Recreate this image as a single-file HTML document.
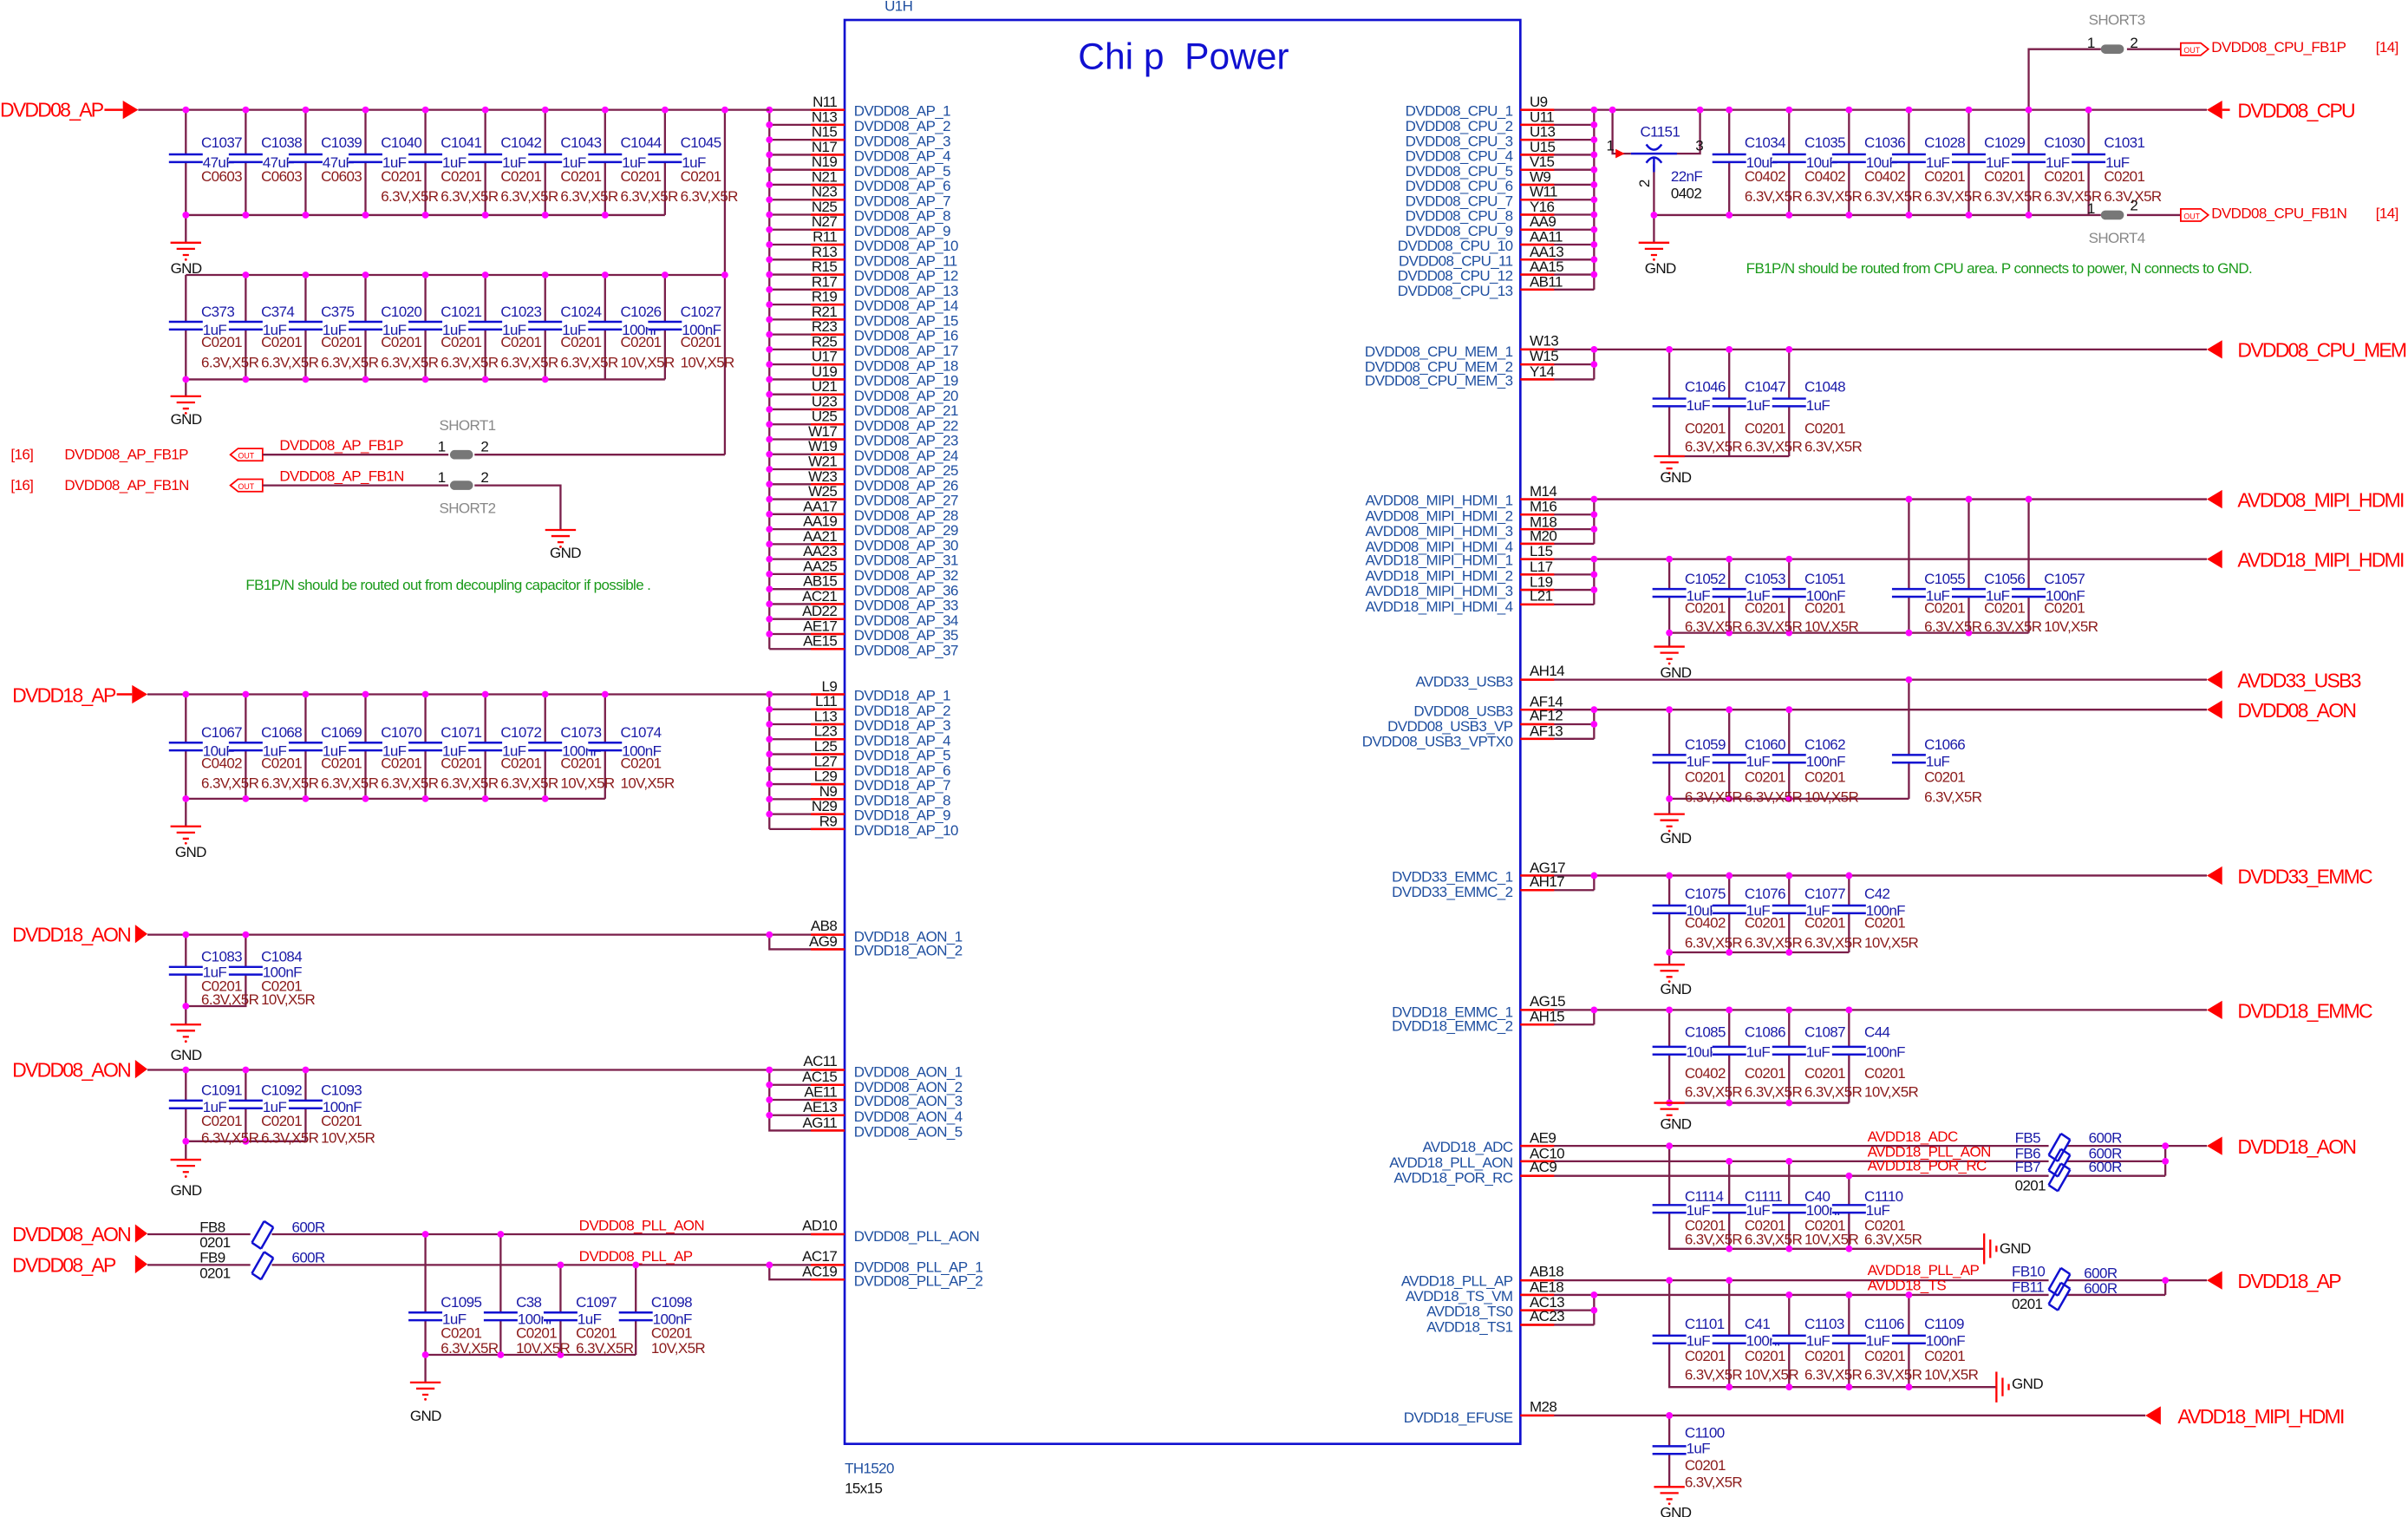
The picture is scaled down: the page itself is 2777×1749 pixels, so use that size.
<!DOCTYPE html>
<html><head><meta charset="utf-8"><style>
html,body{margin:0;padding:0;background:#fff}
svg{display:block}
text{font-family:"Liberation Sans",sans-serif;font-size:9.6px;letter-spacing:-0.35px}
.w{stroke:#7a1f4a;stroke-width:1.3;fill:none}
.rp{stroke:#f00;stroke-width:1.4;fill:none}
.bl{stroke:#1010d0;stroke-width:1.4;fill:none}
.b{fill:#1a1aa8}
.pb{fill:#1f4fa0}
.r{fill:#8b1a1a}
.k{fill:#111}
.n{fill:#f00;font-size:13px;letter-spacing:-1px}
.nr{fill:#e00}
.gr{fill:#888}
.gn{fill:#1a9a1a}
.dt circle{fill:#f0f}
</style></head><body>
<svg width="2777" height="1749" viewBox="0 0 1568 987.6" preserveAspectRatio="none" xmlns="http://www.w3.org/2000/svg">
<defs>
<g id="c"><rect x="-11" y="-2" width="22" height="4" fill="#fff"/><path d="M-11 -2.5H11M-11 2.5H11" class="bl"/></g>
<g id="g"><path d="M-10 0H10M-6 4H6M-2 8H2" stroke="#f00" stroke-width="1.3"/><circle cx="0" cy="11" r="0.8" fill="#f00"/></g>
<g id="gs"><path d="M0 -10V10M4 -6V6M8 -2V2" stroke="#f00" stroke-width="1.3"/></g>
<g id="fb"><path d="M-6 6L2 -8M0 10L8 -4M-6 6L0 10M2 -8L8 -4" class="bl"/></g>
</defs>

<!-- Chip -->
<rect x="550" y="13" width="440" height="927" fill="none" stroke="#1010d0" stroke-width="1.5"/>
<text x="576" y="7" class="pb" font-size="9">U1H</text>
<text x="702" y="45" fill="#1010d0" style="font-size:24px;white-space:pre;letter-spacing:0" xml:space="preserve">Chi p  Power</text>
<text x="550" y="959" class="pb">TH1520</text>
<text x="550" y="972" class="k">15x15</text>

<!-- LEFT PINS DVDD08_AP -->
<g>
<path d="M501 71.5V422.5" class="w"/>
<g transform="translate(0,71.5)"><path d="M501 0H550" class="w"/><path d="M528 0H550" class="rp"/><text x="545" y="-2" class="k" text-anchor="end">N11</text><text x="556" y="4" class="pb">DVDD08_AP_1</text></g>
<g transform="translate(0,81.25)"><path d="M501 0H550" class="w"/><path d="M528 0H550" class="rp"/><text x="545" y="-2" class="k" text-anchor="end">N13</text><text x="556" y="4" class="pb">DVDD08_AP_2</text></g>
<g transform="translate(0,91)"><path d="M501 0H550" class="w"/><path d="M528 0H550" class="rp"/><text x="545" y="-2" class="k" text-anchor="end">N15</text><text x="556" y="4" class="pb">DVDD08_AP_3</text></g>
<g transform="translate(0,100.75)"><path d="M501 0H550" class="w"/><path d="M528 0H550" class="rp"/><text x="545" y="-2" class="k" text-anchor="end">N17</text><text x="556" y="4" class="pb">DVDD08_AP_4</text></g>
<g transform="translate(0,110.5)"><path d="M501 0H550" class="w"/><path d="M528 0H550" class="rp"/><text x="545" y="-2" class="k" text-anchor="end">N19</text><text x="556" y="4" class="pb">DVDD08_AP_5</text></g>
<g transform="translate(0,120.25)"><path d="M501 0H550" class="w"/><path d="M528 0H550" class="rp"/><text x="545" y="-2" class="k" text-anchor="end">N21</text><text x="556" y="4" class="pb">DVDD08_AP_6</text></g>
<g transform="translate(0,130)"><path d="M501 0H550" class="w"/><path d="M528 0H550" class="rp"/><text x="545" y="-2" class="k" text-anchor="end">N23</text><text x="556" y="4" class="pb">DVDD08_AP_7</text></g>
<g transform="translate(0,139.75)"><path d="M501 0H550" class="w"/><path d="M528 0H550" class="rp"/><text x="545" y="-2" class="k" text-anchor="end">N25</text><text x="556" y="4" class="pb">DVDD08_AP_8</text></g>
<g transform="translate(0,149.5)"><path d="M501 0H550" class="w"/><path d="M528 0H550" class="rp"/><text x="545" y="-2" class="k" text-anchor="end">N27</text><text x="556" y="4" class="pb">DVDD08_AP_9</text></g>
<g transform="translate(0,159.25)"><path d="M501 0H550" class="w"/><path d="M528 0H550" class="rp"/><text x="545" y="-2" class="k" text-anchor="end">R11</text><text x="556" y="4" class="pb">DVDD08_AP_10</text></g>
<g transform="translate(0,169)"><path d="M501 0H550" class="w"/><path d="M528 0H550" class="rp"/><text x="545" y="-2" class="k" text-anchor="end">R13</text><text x="556" y="4" class="pb">DVDD08_AP_11</text></g>
<g transform="translate(0,178.75)"><path d="M501 0H550" class="w"/><path d="M528 0H550" class="rp"/><text x="545" y="-2" class="k" text-anchor="end">R15</text><text x="556" y="4" class="pb">DVDD08_AP_12</text></g>
<g transform="translate(0,188.5)"><path d="M501 0H550" class="w"/><path d="M528 0H550" class="rp"/><text x="545" y="-2" class="k" text-anchor="end">R17</text><text x="556" y="4" class="pb">DVDD08_AP_13</text></g>
<g transform="translate(0,198.25)"><path d="M501 0H550" class="w"/><path d="M528 0H550" class="rp"/><text x="545" y="-2" class="k" text-anchor="end">R19</text><text x="556" y="4" class="pb">DVDD08_AP_14</text></g>
<g transform="translate(0,208)"><path d="M501 0H550" class="w"/><path d="M528 0H550" class="rp"/><text x="545" y="-2" class="k" text-anchor="end">R21</text><text x="556" y="4" class="pb">DVDD08_AP_15</text></g>
<g transform="translate(0,217.75)"><path d="M501 0H550" class="w"/><path d="M528 0H550" class="rp"/><text x="545" y="-2" class="k" text-anchor="end">R23</text><text x="556" y="4" class="pb">DVDD08_AP_16</text></g>
<g transform="translate(0,227.5)"><path d="M501 0H550" class="w"/><path d="M528 0H550" class="rp"/><text x="545" y="-2" class="k" text-anchor="end">R25</text><text x="556" y="4" class="pb">DVDD08_AP_17</text></g>
<g transform="translate(0,237.25)"><path d="M501 0H550" class="w"/><path d="M528 0H550" class="rp"/><text x="545" y="-2" class="k" text-anchor="end">U17</text><text x="556" y="4" class="pb">DVDD08_AP_18</text></g>
<g transform="translate(0,247)"><path d="M501 0H550" class="w"/><path d="M528 0H550" class="rp"/><text x="545" y="-2" class="k" text-anchor="end">U19</text><text x="556" y="4" class="pb">DVDD08_AP_19</text></g>
<g transform="translate(0,256.75)"><path d="M501 0H550" class="w"/><path d="M528 0H550" class="rp"/><text x="545" y="-2" class="k" text-anchor="end">U21</text><text x="556" y="4" class="pb">DVDD08_AP_20</text></g>
<g transform="translate(0,266.5)"><path d="M501 0H550" class="w"/><path d="M528 0H550" class="rp"/><text x="545" y="-2" class="k" text-anchor="end">U23</text><text x="556" y="4" class="pb">DVDD08_AP_21</text></g>
<g transform="translate(0,276.25)"><path d="M501 0H550" class="w"/><path d="M528 0H550" class="rp"/><text x="545" y="-2" class="k" text-anchor="end">U25</text><text x="556" y="4" class="pb">DVDD08_AP_22</text></g>
<g transform="translate(0,286)"><path d="M501 0H550" class="w"/><path d="M528 0H550" class="rp"/><text x="545" y="-2" class="k" text-anchor="end">W17</text><text x="556" y="4" class="pb">DVDD08_AP_23</text></g>
<g transform="translate(0,295.75)"><path d="M501 0H550" class="w"/><path d="M528 0H550" class="rp"/><text x="545" y="-2" class="k" text-anchor="end">W19</text><text x="556" y="4" class="pb">DVDD08_AP_24</text></g>
<g transform="translate(0,305.5)"><path d="M501 0H550" class="w"/><path d="M528 0H550" class="rp"/><text x="545" y="-2" class="k" text-anchor="end">W21</text><text x="556" y="4" class="pb">DVDD08_AP_25</text></g>
<g transform="translate(0,315.25)"><path d="M501 0H550" class="w"/><path d="M528 0H550" class="rp"/><text x="545" y="-2" class="k" text-anchor="end">W23</text><text x="556" y="4" class="pb">DVDD08_AP_26</text></g>
<g transform="translate(0,325)"><path d="M501 0H550" class="w"/><path d="M528 0H550" class="rp"/><text x="545" y="-2" class="k" text-anchor="end">W25</text><text x="556" y="4" class="pb">DVDD08_AP_27</text></g>
<g transform="translate(0,334.75)"><path d="M501 0H550" class="w"/><path d="M528 0H550" class="rp"/><text x="545" y="-2" class="k" text-anchor="end">AA17</text><text x="556" y="4" class="pb">DVDD08_AP_28</text></g>
<g transform="translate(0,344.5)"><path d="M501 0H550" class="w"/><path d="M528 0H550" class="rp"/><text x="545" y="-2" class="k" text-anchor="end">AA19</text><text x="556" y="4" class="pb">DVDD08_AP_29</text></g>
<g transform="translate(0,354.25)"><path d="M501 0H550" class="w"/><path d="M528 0H550" class="rp"/><text x="545" y="-2" class="k" text-anchor="end">AA21</text><text x="556" y="4" class="pb">DVDD08_AP_30</text></g>
<g transform="translate(0,364)"><path d="M501 0H550" class="w"/><path d="M528 0H550" class="rp"/><text x="545" y="-2" class="k" text-anchor="end">AA23</text><text x="556" y="4" class="pb">DVDD08_AP_31</text></g>
<g transform="translate(0,373.75)"><path d="M501 0H550" class="w"/><path d="M528 0H550" class="rp"/><text x="545" y="-2" class="k" text-anchor="end">AA25</text><text x="556" y="4" class="pb">DVDD08_AP_32</text></g>
<g transform="translate(0,383.5)"><path d="M501 0H550" class="w"/><path d="M528 0H550" class="rp"/><text x="545" y="-2" class="k" text-anchor="end">AB15</text><text x="556" y="4" class="pb">DVDD08_AP_36</text></g>
<g transform="translate(0,393.25)"><path d="M501 0H550" class="w"/><path d="M528 0H550" class="rp"/><text x="545" y="-2" class="k" text-anchor="end">AC21</text><text x="556" y="4" class="pb">DVDD08_AP_33</text></g>
<g transform="translate(0,403)"><path d="M501 0H550" class="w"/><path d="M528 0H550" class="rp"/><text x="545" y="-2" class="k" text-anchor="end">AD22</text><text x="556" y="4" class="pb">DVDD08_AP_34</text></g>
<g transform="translate(0,412.75)"><path d="M501 0H550" class="w"/><path d="M528 0H550" class="rp"/><text x="545" y="-2" class="k" text-anchor="end">AE17</text><text x="556" y="4" class="pb">DVDD08_AP_35</text></g>
<g transform="translate(0,422.5)"><path d="M501 0H550" class="w"/><path d="M528 0H550" class="rp"/><text x="545" y="-2" class="k" text-anchor="end">AE15</text><text x="556" y="4" class="pb">DVDD08_AP_37</text></g>
<g class="dt"><circle cx="501" cy="71.5" r="2.2"/><circle cx="501" cy="81.25" r="2.2"/><circle cx="501" cy="91" r="2.2"/><circle cx="501" cy="100.75" r="2.2"/><circle cx="501" cy="110.5" r="2.2"/><circle cx="501" cy="120.25" r="2.2"/><circle cx="501" cy="130" r="2.2"/><circle cx="501" cy="139.75" r="2.2"/><circle cx="501" cy="149.5" r="2.2"/><circle cx="501" cy="159.25" r="2.2"/><circle cx="501" cy="169" r="2.2"/><circle cx="501" cy="178.75" r="2.2"/><circle cx="501" cy="188.5" r="2.2"/><circle cx="501" cy="198.25" r="2.2"/><circle cx="501" cy="208" r="2.2"/><circle cx="501" cy="217.75" r="2.2"/><circle cx="501" cy="227.5" r="2.2"/><circle cx="501" cy="237.25" r="2.2"/><circle cx="501" cy="247" r="2.2"/><circle cx="501" cy="256.75" r="2.2"/><circle cx="501" cy="266.5" r="2.2"/><circle cx="501" cy="276.25" r="2.2"/><circle cx="501" cy="286" r="2.2"/><circle cx="501" cy="295.75" r="2.2"/><circle cx="501" cy="305.5" r="2.2"/><circle cx="501" cy="315.25" r="2.2"/><circle cx="501" cy="325" r="2.2"/><circle cx="501" cy="334.75" r="2.2"/><circle cx="501" cy="344.5" r="2.2"/><circle cx="501" cy="354.25" r="2.2"/><circle cx="501" cy="364" r="2.2"/><circle cx="501" cy="373.75" r="2.2"/><circle cx="501" cy="383.5" r="2.2"/><circle cx="501" cy="393.25" r="2.2"/><circle cx="501" cy="403" r="2.2"/><circle cx="501" cy="412.75" r="2.2"/></g>
</g>

<!-- DVDD08_AP decoupling -->
<text x="0" y="76" class="n">DVDD08_AP</text>
<path d="M68 71.5H80" class="rp"/><polygon points="80,65.5 90,71.5 80,77.5" fill="#f00"/>
<path d="M90 71.5H501" class="w"/>
<path d="M121 71.5V140M160 71.5V140M199 71.5V140M238 71.5V140M277 71.5V140M316 71.5V140M355 71.5V140M394 71.5V140M433 71.5V140M121 140H433M121 140V158" class="w"/>
<path d="M472 71.5V296M121 179H472M121 179V247H433M160 179V247M199 179V247M238 179V247M277 179V247M316 179V247M355 179V247M394 179V247M433 179V247M121 247V258" class="w"/>
<g class="dt"><circle cx="121" cy="71.5" r="2.2"/><circle cx="160" cy="71.5" r="2.2"/><circle cx="199" cy="71.5" r="2.2"/><circle cx="238" cy="71.5" r="2.2"/><circle cx="277" cy="71.5" r="2.2"/><circle cx="316" cy="71.5" r="2.2"/><circle cx="355" cy="71.5" r="2.2"/><circle cx="394" cy="71.5" r="2.2"/><circle cx="433" cy="71.5" r="2.2"/><circle cx="472" cy="71.5" r="2.2"/>
<circle cx="121" cy="140" r="2.2"/><circle cx="160" cy="140" r="2.2"/><circle cx="199" cy="140" r="2.2"/><circle cx="238" cy="140" r="2.2"/><circle cx="277" cy="140" r="2.2"/><circle cx="316" cy="140" r="2.2"/><circle cx="355" cy="140" r="2.2"/><circle cx="394" cy="140" r="2.2"/>
<circle cx="160" cy="179" r="2.2"/><circle cx="199" cy="179" r="2.2"/><circle cx="238" cy="179" r="2.2"/><circle cx="277" cy="179" r="2.2"/><circle cx="316" cy="179" r="2.2"/><circle cx="355" cy="179" r="2.2"/><circle cx="394" cy="179" r="2.2"/><circle cx="433" cy="179" r="2.2"/><circle cx="472" cy="179" r="2.2"/>
<circle cx="121" cy="247" r="2.2"/><circle cx="160" cy="247" r="2.2"/><circle cx="199" cy="247" r="2.2"/><circle cx="238" cy="247" r="2.2"/><circle cx="277" cy="247" r="2.2"/><circle cx="316" cy="247" r="2.2"/><circle cx="355" cy="247" r="2.2"/></g>
<use href="#g" x="121" y="158"/><text x="111" y="178" class="k">GND</text>
<use href="#g" x="121" y="258"/><text x="111" y="276" class="k">GND</text>

<g transform="translate(121,103)"><use href="#c"/><text x="10" y="-7" class="b">C1037</text><text x="11" y="6" class="b">47uF</text><text x="10" y="15" class="r">C0603</text></g>
<g transform="translate(160,103)"><use href="#c"/><text x="10" y="-7" class="b">C1038</text><text x="11" y="6" class="b">47uF</text><text x="10" y="15" class="r">C0603</text></g>
<g transform="translate(199,103)"><use href="#c"/><text x="10" y="-7" class="b">C1039</text><text x="11" y="6" class="b">47uF</text><text x="10" y="15" class="r">C0603</text></g>
<g transform="translate(238,103)"><use href="#c"/><text x="10" y="-7" class="b">C1040</text><text x="11" y="6" class="b">1uF</text><text x="10" y="15" class="r">C0201</text><text x="10" y="28" class="r">6.3V,X5R</text></g>
<g transform="translate(277,103)"><use href="#c"/><text x="10" y="-7" class="b">C1041</text><text x="11" y="6" class="b">1uF</text><text x="10" y="15" class="r">C0201</text><text x="10" y="28" class="r">6.3V,X5R</text></g>
<g transform="translate(316,103)"><use href="#c"/><text x="10" y="-7" class="b">C1042</text><text x="11" y="6" class="b">1uF</text><text x="10" y="15" class="r">C0201</text><text x="10" y="28" class="r">6.3V,X5R</text></g>
<g transform="translate(355,103)"><use href="#c"/><text x="10" y="-7" class="b">C1043</text><text x="11" y="6" class="b">1uF</text><text x="10" y="15" class="r">C0201</text><text x="10" y="28" class="r">6.3V,X5R</text></g>
<g transform="translate(394,103)"><use href="#c"/><text x="10" y="-7" class="b">C1044</text><text x="11" y="6" class="b">1uF</text><text x="10" y="15" class="r">C0201</text><text x="10" y="28" class="r">6.3V,X5R</text></g>
<g transform="translate(433,103)"><use href="#c"/><text x="10" y="-7" class="b">C1045</text><text x="11" y="6" class="b">1uF</text><text x="10" y="15" class="r">C0201</text><text x="10" y="28" class="r">6.3V,X5R</text></g>

<g transform="translate(121,212)"><use href="#c"/><text x="10" y="-6" class="b">C373</text><text x="11" y="6" class="b">1uF</text><text x="10" y="14" class="r">C0201</text><text x="10" y="27" class="r">6.3V,X5R</text></g>
<g transform="translate(160,212)"><use href="#c"/><text x="10" y="-6" class="b">C374</text><text x="11" y="6" class="b">1uF</text><text x="10" y="14" class="r">C0201</text><text x="10" y="27" class="r">6.3V,X5R</text></g>
<g transform="translate(199,212)"><use href="#c"/><text x="10" y="-6" class="b">C375</text><text x="11" y="6" class="b">1uF</text><text x="10" y="14" class="r">C0201</text><text x="10" y="27" class="r">6.3V,X5R</text></g>
<g transform="translate(238,212)"><use href="#c"/><text x="10" y="-6" class="b">C1020</text><text x="11" y="6" class="b">1uF</text><text x="10" y="14" class="r">C0201</text><text x="10" y="27" class="r">6.3V,X5R</text></g>
<g transform="translate(277,212)"><use href="#c"/><text x="10" y="-6" class="b">C1021</text><text x="11" y="6" class="b">1uF</text><text x="10" y="14" class="r">C0201</text><text x="10" y="27" class="r">6.3V,X5R</text></g>
<g transform="translate(316,212)"><use href="#c"/><text x="10" y="-6" class="b">C1023</text><text x="11" y="6" class="b">1uF</text><text x="10" y="14" class="r">C0201</text><text x="10" y="27" class="r">6.3V,X5R</text></g>
<g transform="translate(355,212)"><use href="#c"/><text x="10" y="-6" class="b">C1024</text><text x="11" y="6" class="b">1uF</text><text x="10" y="14" class="r">C0201</text><text x="10" y="27" class="r">6.3V,X5R</text></g>
<g transform="translate(394,212)"><use href="#c"/><text x="10" y="-6" class="b">C1026</text><text x="11" y="6" class="b">100nF</text><text x="10" y="14" class="r">C0201</text><text x="10" y="27" class="r">10V,X5R</text></g>
<g transform="translate(433,212)"><use href="#c"/><text x="10" y="-6" class="b">C1027</text><text x="11" y="6" class="b">100nF</text><text x="10" y="14" class="r">C0201</text><text x="10" y="27" class="r">10V,X5R</text></g>

<!-- SHORT1/2 -->
<text x="7" y="299" class="nr" font-size="9">[16]</text><text x="42" y="299" class="nr">DVDD08_AP_FB1P</text>
<text x="7" y="319" class="nr" font-size="9">[16]</text><text x="42" y="319" class="nr">DVDD08_AP_FB1N</text>
<polygon points="150,296 155,292 171,292 171,300 155,300" fill="#fff" stroke="#f00"/><text x="155" y="298.5" fill="#f00" style="font-size:5px;letter-spacing:0">OUT</text>
<polygon points="150,316 155,312 171,312 171,320 155,320" fill="#fff" stroke="#f00"/><text x="155" y="318.5" fill="#f00" style="font-size:5px;letter-spacing:0">OUT</text>
<path d="M171 296H292M309 296H472M171 316H292M309 316H365V345" class="w"/>
<text x="182" y="293" class="nr">DVDD08_AP_FB1P</text><text x="182" y="313" class="nr">DVDD08_AP_FB1N</text>
<rect x="293" y="293" width="15" height="6" rx="3" fill="#777"/><rect x="293" y="313" width="15" height="6" rx="3" fill="#777"/>
<text x="286" y="280" class="gr">SHORT1</text><text x="286" y="334" class="gr">SHORT2</text>
<text x="285" y="294" class="k">1</text><text x="313" y="294" class="k">2</text><text x="285" y="314" class="k">1</text><text x="313" y="314" class="k">2</text>
<use href="#g" x="365" y="345"/><text x="358" y="363" class="k">GND</text>
<text x="160" y="384" class="gn" font-size="9">FB1P/N should be routed out from decoupling capacitor if possible .</text>

<!-- DVDD18_AP -->
<text x="8" y="457" class="n">DVDD18_AP</text>
<path d="M76 452H86" class="rp"/><polygon points="86,446 96,452 86,458" fill="#f00"/>
<path d="M96 452H550M501 452V539.75M121 452V520H394M160 452V520M199 452V520M238 452V520M277 452V520M316 452V520M355 452V520M394 452V520M121 520V538" class="w"/>
<g transform="translate(0,452)"><path d="M528 0H550" class="rp"/><text x="545" y="-2" class="k" text-anchor="end">L9</text><text x="556" y="4" class="pb">DVDD18_AP_1</text></g>
<g transform="translate(0,461.75)"><path d="M501 0H550" class="w"/><path d="M528 0H550" class="rp"/><text x="545" y="-2" class="k" text-anchor="end">L11</text><text x="556" y="4" class="pb">DVDD18_AP_2</text></g>
<g transform="translate(0,471.5)"><path d="M501 0H550" class="w"/><path d="M528 0H550" class="rp"/><text x="545" y="-2" class="k" text-anchor="end">L13</text><text x="556" y="4" class="pb">DVDD18_AP_3</text></g>
<g transform="translate(0,481.25)"><path d="M501 0H550" class="w"/><path d="M528 0H550" class="rp"/><text x="545" y="-2" class="k" text-anchor="end">L23</text><text x="556" y="4" class="pb">DVDD18_AP_4</text></g>
<g transform="translate(0,491)"><path d="M501 0H550" class="w"/><path d="M528 0H550" class="rp"/><text x="545" y="-2" class="k" text-anchor="end">L25</text><text x="556" y="4" class="pb">DVDD18_AP_5</text></g>
<g transform="translate(0,500.75)"><path d="M501 0H550" class="w"/><path d="M528 0H550" class="rp"/><text x="545" y="-2" class="k" text-anchor="end">L27</text><text x="556" y="4" class="pb">DVDD18_AP_6</text></g>
<g transform="translate(0,510.5)"><path d="M501 0H550" class="w"/><path d="M528 0H550" class="rp"/><text x="545" y="-2" class="k" text-anchor="end">L29</text><text x="556" y="4" class="pb">DVDD18_AP_7</text></g>
<g transform="translate(0,520.25)"><path d="M501 0H550" class="w"/><path d="M528 0H550" class="rp"/><text x="545" y="-2" class="k" text-anchor="end">N9</text><text x="556" y="4" class="pb">DVDD18_AP_8</text></g>
<g transform="translate(0,530)"><path d="M501 0H550" class="w"/><path d="M528 0H550" class="rp"/><text x="545" y="-2" class="k" text-anchor="end">N29</text><text x="556" y="4" class="pb">DVDD18_AP_9</text></g>
<g transform="translate(0,539.75)"><path d="M501 0H550" class="w"/><path d="M528 0H550" class="rp"/><text x="545" y="-2" class="k" text-anchor="end">R9</text><text x="556" y="4" class="pb">DVDD18_AP_10</text></g>
<g class="dt"><circle cx="501" cy="452" r="2.2"/><circle cx="501" cy="461.75" r="2.2"/><circle cx="501" cy="471.5" r="2.2"/><circle cx="501" cy="481.25" r="2.2"/><circle cx="501" cy="491" r="2.2"/><circle cx="501" cy="500.75" r="2.2"/><circle cx="501" cy="510.5" r="2.2"/><circle cx="501" cy="520.25" r="2.2"/><circle cx="501" cy="530" r="2.2"/>
<circle cx="121" cy="452" r="2.2"/><circle cx="160" cy="452" r="2.2"/><circle cx="199" cy="452" r="2.2"/><circle cx="238" cy="452" r="2.2"/><circle cx="277" cy="452" r="2.2"/><circle cx="316" cy="452" r="2.2"/><circle cx="355" cy="452" r="2.2"/><circle cx="394" cy="452" r="2.2"/>
<circle cx="121" cy="520" r="2.2"/><circle cx="160" cy="520" r="2.2"/><circle cx="199" cy="520" r="2.2"/><circle cx="238" cy="520" r="2.2"/><circle cx="277" cy="520" r="2.2"/><circle cx="316" cy="520" r="2.2"/><circle cx="355" cy="520" r="2.2"/></g>
<use href="#g" x="121" y="538"/><text x="114" y="558" class="k">GND</text>
<g transform="translate(121,486)"><use href="#c"/><text x="10" y="-6" class="b">C1067</text><text x="11" y="6" class="b">10uF</text><text x="10" y="14" class="r">C0402</text><text x="10" y="27" class="r">6.3V,X5R</text></g>
<g transform="translate(160,486)"><use href="#c"/><text x="10" y="-6" class="b">C1068</text><text x="11" y="6" class="b">1uF</text><text x="10" y="14" class="r">C0201</text><text x="10" y="27" class="r">6.3V,X5R</text></g>
<g transform="translate(199,486)"><use href="#c"/><text x="10" y="-6" class="b">C1069</text><text x="11" y="6" class="b">1uF</text><text x="10" y="14" class="r">C0201</text><text x="10" y="27" class="r">6.3V,X5R</text></g>
<g transform="translate(238,486)"><use href="#c"/><text x="10" y="-6" class="b">C1070</text><text x="11" y="6" class="b">1uF</text><text x="10" y="14" class="r">C0201</text><text x="10" y="27" class="r">6.3V,X5R</text></g>
<g transform="translate(277,486)"><use href="#c"/><text x="10" y="-6" class="b">C1071</text><text x="11" y="6" class="b">1uF</text><text x="10" y="14" class="r">C0201</text><text x="10" y="27" class="r">6.3V,X5R</text></g>
<g transform="translate(316,486)"><use href="#c"/><text x="10" y="-6" class="b">C1072</text><text x="11" y="6" class="b">1uF</text><text x="10" y="14" class="r">C0201</text><text x="10" y="27" class="r">6.3V,X5R</text></g>
<g transform="translate(355,486)"><use href="#c"/><text x="10" y="-6" class="b">C1073</text><text x="11" y="6" class="b">100nF</text><text x="10" y="14" class="r">C0201</text><text x="10" y="27" class="r">10V,X5R</text></g>
<g transform="translate(394,486)"><use href="#c"/><text x="10" y="-6" class="b">C1074</text><text x="11" y="6" class="b">100nF</text><text x="10" y="14" class="r">C0201</text><text x="10" y="27" class="r">10V,X5R</text></g>

<!-- DVDD18_AON -->
<text x="8" y="613" class="n">DVDD18_AON</text>
<polygon points="88,602 96,608 88,614" fill="#f00"/>
<path d="M96 608.5H550M501 608.5V618H550M121 608.5V655H160V608.5M121 655V667" class="w"/>
<path d="M528 608.5H550M528 618H550" class="rp"/>
<text x="545" y="606" class="k" text-anchor="end">AB8</text><text x="545" y="616" class="k" text-anchor="end">AG9</text>
<text x="556" y="613" class="pb">DVDD18_AON_1</text><text x="556" y="622" class="pb">DVDD18_AON_2</text>
<g class="dt"><circle cx="121" cy="608.5" r="2.2"/><circle cx="160" cy="608.5" r="2.2"/><circle cx="501" cy="608.5" r="2.2"/><circle cx="121" cy="655" r="2.2"/></g>
<use href="#g" x="121" y="667"/><text x="111" y="690" class="k">GND</text>
<g transform="translate(121,632)"><use href="#c"/><text x="10" y="-6" class="b">C1083</text><text x="11" y="4" class="b">1uF</text><text x="10" y="13" class="r">C0201</text><text x="10" y="22" class="r">6.3V,X5R</text></g>
<g transform="translate(160,632)"><use href="#c"/><text x="10" y="-6" class="b">C1084</text><text x="11" y="4" class="b">100nF</text><text x="10" y="13" class="r">C0201</text><text x="10" y="22" class="r">10V,X5R</text></g>

<!-- DVDD08_AON -->
<text x="8" y="701" class="n">DVDD08_AON</text>
<polygon points="88,690 96,696 88,702" fill="#f00"/>
<path d="M96 696.5H550M501 696.5V736H550M501 706.25H550M501 716H550M501 726H550M121 696.5V743H199M160 696.5V743M199 696.5V743M121 743V755" class="w"/>
<path d="M528 696.5H550M528 706.25H550M528 716H550M528 726H550M528 736H550" class="rp"/>
<text x="545" y="694" class="k" text-anchor="end">AC11</text><text x="545" y="704" class="k" text-anchor="end">AC15</text><text x="545" y="714" class="k" text-anchor="end">AE11</text><text x="545" y="724" class="k" text-anchor="end">AE13</text><text x="545" y="734" class="k" text-anchor="end">AG11</text>
<text x="556" y="701" class="pb">DVDD08_AON_1</text><text x="556" y="711" class="pb">DVDD08_AON_2</text><text x="556" y="720" class="pb">DVDD08_AON_3</text><text x="556" y="730" class="pb">DVDD08_AON_4</text><text x="556" y="740" class="pb">DVDD08_AON_5</text>
<g class="dt"><circle cx="121" cy="696.5" r="2.2"/><circle cx="160" cy="696.5" r="2.2"/><circle cx="199" cy="696.5" r="2.2"/><circle cx="501" cy="696.5" r="2.2"/><circle cx="501" cy="706.25" r="2.2"/><circle cx="501" cy="716" r="2.2"/><circle cx="501" cy="726" r="2.2"/><circle cx="121" cy="743" r="2.2"/><circle cx="160" cy="743" r="2.2"/></g>
<use href="#g" x="121" y="755"/><text x="111" y="778" class="k">GND</text>
<g transform="translate(121,719)"><use href="#c"/><text x="10" y="-6" class="b">C1091</text><text x="11" y="5" class="b">1uF</text><text x="10" y="14" class="r">C0201</text><text x="10" y="25" class="r">6.3V,X5R</text></g>
<g transform="translate(160,719)"><use href="#c"/><text x="10" y="-6" class="b">C1092</text><text x="11" y="5" class="b">1uF</text><text x="10" y="14" class="r">C0201</text><text x="10" y="25" class="r">6.3V,X5R</text></g>
<g transform="translate(199,719)"><use href="#c"/><text x="10" y="-6" class="b">C1093</text><text x="11" y="5" class="b">100nF</text><text x="10" y="14" class="r">C0201</text><text x="10" y="25" class="r">10V,X5R</text></g>

<!-- PLL -->
<text x="8" y="808" class="n">DVDD08_AON</text>
<polygon points="88,797 96,803 88,809" fill="#f00"/>
<text x="8" y="828" class="n">DVDD08_AP</text>
<polygon points="88,817 96,823 88,829" fill="#f00"/>
<path d="M96 803.5H163M177 803.5H550M96 823.5H163M177 823.5H550M501 823.5V833H550M277 803.5V882H414M326 803.5V882M365 823.5V882M414 823.5V882M277 882V900" class="w"/>
<path d="M528 803.5H550M528 823.5H550M528 833H550" class="rp"/>
<use href="#fb" x="170" y="803"/><use href="#fb" x="170" y="823"/>
<text x="130" y="802" class="k">FB8</text><text x="130" y="812" class="k">0201</text><text x="190" y="802" class="b">600R</text>
<text x="130" y="822" class="k">FB9</text><text x="130" y="832" class="k">0201</text><text x="190" y="822" class="b">600R</text>
<text x="377" y="801" class="nr">DVDD08_PLL_AON</text><text x="377" y="821" class="nr">DVDD08_PLL_AP</text>
<text x="545" y="801" class="k" text-anchor="end">AD10</text><text x="545" y="821" class="k" text-anchor="end">AC17</text><text x="545" y="831" class="k" text-anchor="end">AC19</text>
<text x="556" y="808" class="pb">DVDD08_PLL_AON</text><text x="556" y="828" class="pb">DVDD08_PLL_AP_1</text><text x="556" y="837" class="pb">DVDD08_PLL_AP_2</text>
<g class="dt"><circle cx="277" cy="803.5" r="2.2"/><circle cx="326" cy="803.5" r="2.2"/><circle cx="365" cy="823.5" r="2.2"/><circle cx="414" cy="823.5" r="2.2"/><circle cx="501" cy="823.5" r="2.2"/><circle cx="277" cy="882" r="2.2"/><circle cx="326" cy="882" r="2.2"/><circle cx="365" cy="882" r="2.2"/></g>
<use href="#g" x="277" y="900"/><text x="267" y="925" class="k">GND</text>
<g transform="translate(277,857)"><use href="#c"/><text x="10" y="-6" class="b">C1095</text><text x="11" y="5" class="b">1uF</text><text x="10" y="14" class="r">C0201</text><text x="10" y="24" class="r">6.3V,X5R</text></g>
<g transform="translate(326,857)"><use href="#c"/><text x="10" y="-6" class="b">C38</text><text x="11" y="5" class="b">100nF</text><text x="10" y="14" class="r">C0201</text><text x="10" y="24" class="r">10V,X5R</text></g>
<g transform="translate(365,857)"><use href="#c"/><text x="10" y="-6" class="b">C1097</text><text x="11" y="5" class="b">1uF</text><text x="10" y="14" class="r">C0201</text><text x="10" y="24" class="r">6.3V,X5R</text></g>
<g transform="translate(414,857)"><use href="#c"/><text x="10" y="-6" class="b">C1098</text><text x="11" y="5" class="b">100nF</text><text x="10" y="14" class="r">C0201</text><text x="10" y="24" class="r">10V,X5R</text></g>

<!-- RIGHT: DVDD08_CPU -->
<path d="M1038 71.5V188.5M1040 71.5H1437" class="w"/>
<g transform="translate(0,71.5)"><path d="M990 0H1040" class="w"/><path d="M990 0H1012" class="rp"/><text x="996" y="-2" class="k">U9</text><text x="985" y="4" class="pb" text-anchor="end">DVDD08_CPU_1</text></g>
<g transform="translate(0,81.25)"><path d="M990 0H1038" class="w"/><path d="M990 0H1012" class="rp"/><text x="996" y="-2" class="k">U11</text><text x="985" y="4" class="pb" text-anchor="end">DVDD08_CPU_2</text></g>
<g transform="translate(0,91)"><path d="M990 0H1038" class="w"/><path d="M990 0H1012" class="rp"/><text x="996" y="-2" class="k">U13</text><text x="985" y="4" class="pb" text-anchor="end">DVDD08_CPU_3</text></g>
<g transform="translate(0,100.75)"><path d="M990 0H1038" class="w"/><path d="M990 0H1012" class="rp"/><text x="996" y="-2" class="k">U15</text><text x="985" y="4" class="pb" text-anchor="end">DVDD08_CPU_4</text></g>
<g transform="translate(0,110.5)"><path d="M990 0H1038" class="w"/><path d="M990 0H1012" class="rp"/><text x="996" y="-2" class="k">V15</text><text x="985" y="4" class="pb" text-anchor="end">DVDD08_CPU_5</text></g>
<g transform="translate(0,120.25)"><path d="M990 0H1038" class="w"/><path d="M990 0H1012" class="rp"/><text x="996" y="-2" class="k">W9</text><text x="985" y="4" class="pb" text-anchor="end">DVDD08_CPU_6</text></g>
<g transform="translate(0,130)"><path d="M990 0H1038" class="w"/><path d="M990 0H1012" class="rp"/><text x="996" y="-2" class="k">W11</text><text x="985" y="4" class="pb" text-anchor="end">DVDD08_CPU_7</text></g>
<g transform="translate(0,139.75)"><path d="M990 0H1038" class="w"/><path d="M990 0H1012" class="rp"/><text x="996" y="-2" class="k">Y16</text><text x="985" y="4" class="pb" text-anchor="end">DVDD08_CPU_8</text></g>
<g transform="translate(0,149.5)"><path d="M990 0H1038" class="w"/><path d="M990 0H1012" class="rp"/><text x="996" y="-2" class="k">AA9</text><text x="985" y="4" class="pb" text-anchor="end">DVDD08_CPU_9</text></g>
<g transform="translate(0,159.25)"><path d="M990 0H1038" class="w"/><path d="M990 0H1012" class="rp"/><text x="996" y="-2" class="k">AA11</text><text x="985" y="4" class="pb" text-anchor="end">DVDD08_CPU_10</text></g>
<g transform="translate(0,169)"><path d="M990 0H1038" class="w"/><path d="M990 0H1012" class="rp"/><text x="996" y="-2" class="k">AA13</text><text x="985" y="4" class="pb" text-anchor="end">DVDD08_CPU_11</text></g>
<g transform="translate(0,178.75)"><path d="M990 0H1038" class="w"/><path d="M990 0H1012" class="rp"/><text x="996" y="-2" class="k">AA15</text><text x="985" y="4" class="pb" text-anchor="end">DVDD08_CPU_12</text></g>
<g transform="translate(0,188.5)"><path d="M990 0H1038" class="w"/><path d="M990 0H1012" class="rp"/><text x="996" y="-2" class="k">AB11</text><text x="985" y="4" class="pb" text-anchor="end">DVDD08_CPU_13</text></g>
<g class="dt"><circle cx="1038" cy="71.5" r="2.2"/><circle cx="1038" cy="81.25" r="2.2"/><circle cx="1038" cy="91" r="2.2"/><circle cx="1038" cy="100.75" r="2.2"/><circle cx="1038" cy="110.5" r="2.2"/><circle cx="1038" cy="120.25" r="2.2"/><circle cx="1038" cy="130" r="2.2"/><circle cx="1038" cy="139.75" r="2.2"/><circle cx="1038" cy="149.5" r="2.2"/><circle cx="1038" cy="159.25" r="2.2"/><circle cx="1038" cy="169" r="2.2"/><circle cx="1038" cy="178.75" r="2.2"/></g>
<polygon points="1437,71.5 1447,65.5 1447,77.5" fill="#f00"/><path d="M1447 71.5H1452" class="rp"/>
<text x="1457" y="76.5" class="n">DVDD08_CPU</text>
<!-- C1151 -->
<path d="M1050 71.5V100H1062M1107 71.5V100H1092M1077 107V140H1368M1385 140H1420M1126 71.5V140M1165 71.5V140M1204 71.5V140M1243 71.5V140M1282 71.5V140M1321 71.5V140M1360 71.5V140M1077 140V158M1321 71.5V32H1368M1385 32H1420" class="w"/>
<path d="M1062 100H1092" class="bl"/><path d="M1072 94Q1077 101 1082 94" class="bl"/><path d="M1072 106Q1077 99 1082 106M1077 103V112" class="bl"/>
<polygon points="1052,97 1058,100 1052,103" fill="#f00"/>
<text x="1068" y="89" class="b">C1151</text><text x="1046" y="98" class="k">1</text><text x="1104" y="98" class="k">3</text>
<text x="1074" y="122" class="k" transform="rotate(-90 1074 122)">2</text>
<text x="1088" y="118" class="b">22nF</text><text x="1088" y="129" class="k">0402</text>
<use href="#g" x="1077" y="158"/><text x="1071" y="178" class="k">GND</text>
<g class="dt"><circle cx="1050" cy="71.5" r="2.2"/><circle cx="1107" cy="71.5" r="2.2"/><circle cx="1126" cy="71.5" r="2.2"/><circle cx="1165" cy="71.5" r="2.2"/><circle cx="1204" cy="71.5" r="2.2"/><circle cx="1243" cy="71.5" r="2.2"/><circle cx="1282" cy="71.5" r="2.2"/><circle cx="1321" cy="71.5" r="2.2"/><circle cx="1360" cy="71.5" r="2.2"/>
<circle cx="1077" cy="140" r="2.2"/><circle cx="1126" cy="140" r="2.2"/><circle cx="1165" cy="140" r="2.2"/><circle cx="1204" cy="140" r="2.2"/><circle cx="1243" cy="140" r="2.2"/><circle cx="1282" cy="140" r="2.2"/><circle cx="1321" cy="140" r="2.2"/></g>
<g transform="translate(1126,103)"><use href="#c"/><text x="10" y="-7" class="b">C1034</text><text x="11" y="6" class="b">10uF</text><text x="10" y="15" class="r">C0402</text><text x="10" y="28" class="r">6.3V,X5R</text></g>
<g transform="translate(1165,103)"><use href="#c"/><text x="10" y="-7" class="b">C1035</text><text x="11" y="6" class="b">10uF</text><text x="10" y="15" class="r">C0402</text><text x="10" y="28" class="r">6.3V,X5R</text></g>
<g transform="translate(1204,103)"><use href="#c"/><text x="10" y="-7" class="b">C1036</text><text x="11" y="6" class="b">10uF</text><text x="10" y="15" class="r">C0402</text><text x="10" y="28" class="r">6.3V,X5R</text></g>
<g transform="translate(1243,103)"><use href="#c"/><text x="10" y="-7" class="b">C1028</text><text x="11" y="6" class="b">1uF</text><text x="10" y="15" class="r">C0201</text><text x="10" y="28" class="r">6.3V,X5R</text></g>
<g transform="translate(1282,103)"><use href="#c"/><text x="10" y="-7" class="b">C1029</text><text x="11" y="6" class="b">1uF</text><text x="10" y="15" class="r">C0201</text><text x="10" y="28" class="r">6.3V,X5R</text></g>
<g transform="translate(1321,103)"><use href="#c"/><text x="10" y="-7" class="b">C1030</text><text x="11" y="6" class="b">1uF</text><text x="10" y="15" class="r">C0201</text><text x="10" y="28" class="r">6.3V,X5R</text></g>
<g transform="translate(1360,103)"><use href="#c"/><text x="10" y="-7" class="b">C1031</text><text x="11" y="6" class="b">1uF</text><text x="10" y="15" class="r">C0201</text><text x="10" y="28" class="r">6.3V,X5R</text></g>
<rect x="1368" y="29" width="15" height="6" rx="3" fill="#777"/><rect x="1368" y="137" width="15" height="6" rx="3" fill="#777"/>
<text x="1360" y="16" class="gr">SHORT3</text><text x="1359" y="31" class="k">1</text><text x="1387" y="31" class="k">2</text>
<text x="1360" y="158" class="gr">SHORT4</text><text x="1359" y="139" class="k">1</text><text x="1387" y="137" class="k">2</text>
<polygon points="1420,28 1433,28 1438,32 1433,36 1420,36" fill="#fff" stroke="#f00"/><text x="1422" y="34.5" fill="#f00" style="font-size:5px;letter-spacing:0">OUT</text>
<polygon points="1420,136 1433,136 1438,140 1433,144 1420,144" fill="#fff" stroke="#f00"/><text x="1422" y="142.5" fill="#f00" style="font-size:5px;letter-spacing:0">OUT</text>
<text x="1440" y="34" class="nr">DVDD08_CPU_FB1P</text><text x="1547" y="34" class="nr">[14]</text>
<text x="1440" y="142" class="nr">DVDD08_CPU_FB1N</text><text x="1547" y="142" class="nr">[14]</text>
<text x="1137" y="178" class="gn" font-size="9">FB1P/N should be routed from CPU area. P connects to power, N connects to GND.</text>

<!-- CPU_MEM -->
<path d="M990 227.5H1437M990 237.25H1038M990 247H1038M1038 227.5V247M1087 227.5V297H1165M1126 227.5V297M1165 227.5V297M1087 297V296" class="w"/>
<path d="M990 227.5H1012M990 237.25H1012M990 247H1012" class="rp"/>
<text x="996" y="225" class="k">W13</text><text x="996" y="235" class="k">W15</text><text x="996" y="245" class="k">Y14</text>
<text x="985" y="232" class="pb" text-anchor="end">DVDD08_CPU_MEM_1</text><text x="985" y="242" class="pb" text-anchor="end">DVDD08_CPU_MEM_2</text><text x="985" y="251" class="pb" text-anchor="end">DVDD08_CPU_MEM_3</text>
<g class="dt"><circle cx="1038" cy="227.5" r="2.2"/><circle cx="1038" cy="237.25" r="2.2"/><circle cx="1087" cy="227.5" r="2.2"/><circle cx="1126" cy="227.5" r="2.2"/><circle cx="1165" cy="227.5" r="2.2"/></g>
<use href="#g" x="1087" y="297"/><text x="1081" y="314" class="k">GND</text>
<polygon points="1437,227.5 1447,221.5 1447,233.5" fill="#f00"/><text x="1457" y="232.5" class="n">DVDD08_CPU_MEM</text>
<g transform="translate(1087,262)"><use href="#c"/><text x="10" y="-7" class="b">C1046</text><text x="11" y="5" class="b">1uF</text><text x="10" y="20" class="r">C0201</text><text x="10" y="32" class="r">6.3V,X5R</text></g>
<g transform="translate(1126,262)"><use href="#c"/><text x="10" y="-7" class="b">C1047</text><text x="11" y="5" class="b">1uF</text><text x="10" y="20" class="r">C0201</text><text x="10" y="32" class="r">6.3V,X5R</text></g>
<g transform="translate(1165,262)"><use href="#c"/><text x="10" y="-7" class="b">C1048</text><text x="11" y="5" class="b">1uF</text><text x="10" y="20" class="r">C0201</text><text x="10" y="32" class="r">6.3V,X5R</text></g>

<!-- MIPI -->
<path d="M990 325H1437M990 364H1437M990 335H1038M990 344.5H1038M990 354H1038M1038 325V354M990 374H1038M990 384H1038M990 393.5H1038M1038 364V393.5M1087 364V412H1321M1126 364V412M1165 364V412M1243 325V412M1282 325V412M1321 325V412M1087 412V421" class="w"/>
<path d="M990 325H1012M990 335H1012M990 344.5H1012M990 354H1012M990 364H1012M990 374H1012M990 384H1012M990 393.5H1012" class="rp"/>
<text x="996" y="323" class="k">M14</text><text x="996" y="333" class="k">M16</text><text x="996" y="343" class="k">M18</text><text x="996" y="352" class="k">M20</text><text x="996" y="362" class="k">L15</text><text x="996" y="372" class="k">L17</text><text x="996" y="382" class="k">L19</text><text x="996" y="391" class="k">L21</text>
<text x="985" y="329" class="pb" text-anchor="end">AVDD08_MIPI_HDMI_1</text><text x="985" y="339" class="pb" text-anchor="end">AVDD08_MIPI_HDMI_2</text><text x="985" y="349" class="pb" text-anchor="end">AVDD08_MIPI_HDMI_3</text><text x="985" y="359" class="pb" text-anchor="end">AVDD08_MIPI_HDMI_4</text>
<text x="985" y="368" class="pb" text-anchor="end">AVDD18_MIPI_HDMI_1</text><text x="985" y="378" class="pb" text-anchor="end">AVDD18_MIPI_HDMI_2</text><text x="985" y="388" class="pb" text-anchor="end">AVDD18_MIPI_HDMI_3</text><text x="985" y="398" class="pb" text-anchor="end">AVDD18_MIPI_HDMI_4</text>
<g class="dt"><circle cx="1038" cy="325" r="2.2"/><circle cx="1038" cy="335" r="2.2"/><circle cx="1038" cy="344.5" r="2.2"/><circle cx="1038" cy="364" r="2.2"/><circle cx="1038" cy="374" r="2.2"/><circle cx="1038" cy="384" r="2.2"/>
<circle cx="1087" cy="364" r="2.2"/><circle cx="1126" cy="364" r="2.2"/><circle cx="1165" cy="364" r="2.2"/><circle cx="1243" cy="325" r="2.2"/><circle cx="1282" cy="325" r="2.2"/><circle cx="1321" cy="325" r="2.2"/>
<circle cx="1087" cy="412" r="2.2"/><circle cx="1126" cy="412" r="2.2"/><circle cx="1165" cy="412" r="2.2"/><circle cx="1243" cy="412" r="2.2"/><circle cx="1282" cy="412" r="2.2"/></g>
<use href="#g" x="1087" y="421"/><text x="1081" y="441" class="k">GND</text>
<polygon points="1437,325 1447,319 1447,331" fill="#f00"/><text x="1457" y="330" class="n">AVDD08_MIPI_HDMI</text>
<polygon points="1437,364 1447,358 1447,370" fill="#f00"/><text x="1457" y="369" class="n">AVDD18_MIPI_HDMI</text>
<g transform="translate(1087,386)"><use href="#c"/><text x="10" y="-6" class="b">C1052</text><text x="11" y="5" class="b">1uF</text><text x="10" y="13" class="r">C0201</text><text x="10" y="25" class="r">6.3V,X5R</text></g>
<g transform="translate(1126,386)"><use href="#c"/><text x="10" y="-6" class="b">C1053</text><text x="11" y="5" class="b">1uF</text><text x="10" y="13" class="r">C0201</text><text x="10" y="25" class="r">6.3V,X5R</text></g>
<g transform="translate(1165,386)"><use href="#c"/><text x="10" y="-6" class="b">C1051</text><text x="11" y="5" class="b">100nF</text><text x="10" y="13" class="r">C0201</text><text x="10" y="25" class="r">10V,X5R</text></g>
<g transform="translate(1243,386)"><use href="#c"/><text x="10" y="-6" class="b">C1055</text><text x="11" y="5" class="b">1uF</text><text x="10" y="13" class="r">C0201</text><text x="10" y="25" class="r">6.3V,X5R</text></g>
<g transform="translate(1282,386)"><use href="#c"/><text x="10" y="-6" class="b">C1056</text><text x="11" y="5" class="b">1uF</text><text x="10" y="13" class="r">C0201</text><text x="10" y="25" class="r">6.3V,X5R</text></g>
<g transform="translate(1321,386)"><use href="#c"/><text x="10" y="-6" class="b">C1057</text><text x="11" y="5" class="b">100nF</text><text x="10" y="13" class="r">C0201</text><text x="10" y="25" class="r">10V,X5R</text></g>

<!-- USB -->
<path d="M990 442.5H1437M990 462H1437M990 471.5H1038M990 481H1038M1038 462V481M1087 462V520H1243M1126 462V520M1165 462V520M1243 442.5V520M1087 520V530" class="w"/>
<path d="M990 442.5H1012M990 462H1012M990 471.5H1012M990 481H1012" class="rp"/>
<text x="996" y="440" class="k">AH14</text><text x="996" y="460" class="k">AF14</text><text x="996" y="469" class="k">AF12</text><text x="996" y="479" class="k">AF13</text>
<text x="985" y="447" class="pb" text-anchor="end">AVDD33_USB3</text><text x="985" y="466" class="pb" text-anchor="end">DVDD08_USB3</text><text x="985" y="476" class="pb" text-anchor="end">DVDD08_USB3_VP</text><text x="985" y="486" class="pb" text-anchor="end">DVDD08_USB3_VPTX0</text>
<g class="dt"><circle cx="1038" cy="462" r="2.2"/><circle cx="1038" cy="471.5" r="2.2"/><circle cx="1087" cy="462" r="2.2"/><circle cx="1126" cy="462" r="2.2"/><circle cx="1165" cy="462" r="2.2"/><circle cx="1243" cy="442.5" r="2.2"/><circle cx="1087" cy="520" r="2.2"/><circle cx="1126" cy="520" r="2.2"/><circle cx="1165" cy="520" r="2.2"/></g>
<use href="#g" x="1087" y="530"/><text x="1081" y="549" class="k">GND</text>
<polygon points="1437,442.5 1447,436.5 1447,448.5" fill="#f00"/><text x="1457" y="447.5" class="n">AVDD33_USB3</text>
<polygon points="1437,462 1447,456 1447,468" fill="#f00"/><text x="1457" y="467" class="n">DVDD08_AON</text>
<g transform="translate(1087,494)"><use href="#c"/><text x="10" y="-6" class="b">C1059</text><text x="11" y="5" class="b">1uF</text><text x="10" y="15" class="r">C0201</text><text x="10" y="28" class="r">6.3V,X5R</text></g>
<g transform="translate(1126,494)"><use href="#c"/><text x="10" y="-6" class="b">C1060</text><text x="11" y="5" class="b">1uF</text><text x="10" y="15" class="r">C0201</text><text x="10" y="28" class="r">6.3V,X5R</text></g>
<g transform="translate(1165,494)"><use href="#c"/><text x="10" y="-6" class="b">C1062</text><text x="11" y="5" class="b">100nF</text><text x="10" y="15" class="r">C0201</text><text x="10" y="28" class="r">10V,X5R</text></g>
<g transform="translate(1243,494)"><use href="#c"/><text x="10" y="-6" class="b">C1066</text><text x="11" y="5" class="b">1uF</text><text x="10" y="15" class="r">C0201</text><text x="10" y="28" class="r">6.3V,X5R</text></g>

<!-- EMMC33 -->
<path d="M990 570H1437M990 579.5H1038M1038 570V579.5M1087 570V620H1204M1126 570V620M1165 570V620M1204 570V620M1087 620V628" class="w"/>
<path d="M990 570H1012M990 579.5H1012" class="rp"/>
<text x="996" y="568" class="k">AG17</text><text x="996" y="577" class="k">AH17</text>
<text x="985" y="574" class="pb" text-anchor="end">DVDD33_EMMC_1</text><text x="985" y="584" class="pb" text-anchor="end">DVDD33_EMMC_2</text>
<g class="dt"><circle cx="1038" cy="570" r="2.2"/><circle cx="1087" cy="570" r="2.2"/><circle cx="1126" cy="570" r="2.2"/><circle cx="1165" cy="570" r="2.2"/><circle cx="1204" cy="570" r="2.2"/><circle cx="1087" cy="620" r="2.2"/><circle cx="1126" cy="620" r="2.2"/><circle cx="1165" cy="620" r="2.2"/></g>
<use href="#g" x="1087" y="628"/><text x="1081" y="647" class="k">GND</text>
<polygon points="1437,570 1447,564 1447,576" fill="#f00"/><text x="1457" y="575" class="n">DVDD33_EMMC</text>
<g transform="translate(1087,592)"><use href="#c"/><text x="10" y="-7" class="b">C1075</text><text x="11" y="4" class="b">10uF</text><text x="10" y="12" class="r">C0402</text><text x="10" y="25" class="r">6.3V,X5R</text></g>
<g transform="translate(1126,592)"><use href="#c"/><text x="10" y="-7" class="b">C1076</text><text x="11" y="4" class="b">1uF</text><text x="10" y="12" class="r">C0201</text><text x="10" y="25" class="r">6.3V,X5R</text></g>
<g transform="translate(1165,592)"><use href="#c"/><text x="10" y="-7" class="b">C1077</text><text x="11" y="4" class="b">1uF</text><text x="10" y="12" class="r">C0201</text><text x="10" y="25" class="r">6.3V,X5R</text></g>
<g transform="translate(1204,592)"><use href="#c"/><text x="10" y="-7" class="b">C42</text><text x="11" y="4" class="b">100nF</text><text x="10" y="12" class="r">C0201</text><text x="10" y="25" class="r">10V,X5R</text></g>

<!-- EMMC18 -->
<path d="M990 657.5H1437M990 667H1038M1038 657.5V667M1087 657.5V718H1204M1126 657.5V718M1165 657.5V718M1204 657.5V718M1087 718V716" class="w"/>
<path d="M990 657.5H1012M990 667H1012" class="rp"/>
<text x="996" y="655" class="k">AG15</text><text x="996" y="665" class="k">AH15</text>
<text x="985" y="662" class="pb" text-anchor="end">DVDD18_EMMC_1</text><text x="985" y="671" class="pb" text-anchor="end">DVDD18_EMMC_2</text>
<g class="dt"><circle cx="1038" cy="657.5" r="2.2"/><circle cx="1087" cy="657.5" r="2.2"/><circle cx="1126" cy="657.5" r="2.2"/><circle cx="1165" cy="657.5" r="2.2"/><circle cx="1204" cy="657.5" r="2.2"/><circle cx="1087" cy="718" r="2.2"/><circle cx="1126" cy="718" r="2.2"/><circle cx="1165" cy="718" r="2.2"/></g>
<use href="#g" x="1087" y="718"/><text x="1081" y="735" class="k">GND</text>
<polygon points="1437,657.5 1447,651.5 1447,663.5" fill="#f00"/><text x="1457" y="662.5" class="n">DVDD18_EMMC</text>
<g transform="translate(1087,684)"><use href="#c"/><text x="10" y="-9" class="b">C1085</text><text x="11" y="4" class="b">10uF</text><text x="10" y="18" class="r">C0402</text><text x="10" y="30" class="r">6.3V,X5R</text></g>
<g transform="translate(1126,684)"><use href="#c"/><text x="10" y="-9" class="b">C1086</text><text x="11" y="4" class="b">1uF</text><text x="10" y="18" class="r">C0201</text><text x="10" y="30" class="r">6.3V,X5R</text></g>
<g transform="translate(1165,684)"><use href="#c"/><text x="10" y="-9" class="b">C1087</text><text x="11" y="4" class="b">1uF</text><text x="10" y="18" class="r">C0201</text><text x="10" y="30" class="r">6.3V,X5R</text></g>
<g transform="translate(1204,684)"><use href="#c"/><text x="10" y="-9" class="b">C44</text><text x="11" y="4" class="b">100nF</text><text x="10" y="18" class="r">C0201</text><text x="10" y="30" class="r">10V,X5R</text></g>

<!-- ADC group -->
<path d="M990 746H1334M990 756H1334M990 765.5H1334M1346 746H1437M1346 756H1410M1346 765.5H1410M1410 746V765.5M1087 746V813H1292M1126 756V813M1165 756V813M1204 765.5V813" class="w"/>
<path d="M990 746H1012M990 756H1012M990 765.5H1012" class="rp"/>
<use href="#fb" x="1340" y="746"/><use href="#fb" x="1340" y="756"/><use href="#fb" x="1340" y="765.5"/>
<text x="996" y="744" class="k">AE9</text><text x="996" y="754" class="k">AC10</text><text x="996" y="763" class="k">AC9</text>
<text x="985" y="750" class="pb" text-anchor="end">AVDD18_ADC</text><text x="985" y="760" class="pb" text-anchor="end">AVDD18_PLL_AON</text><text x="985" y="770" class="pb" text-anchor="end">AVDD18_POR_RC</text>
<text x="1216" y="743" class="nr">AVDD18_ADC</text><text x="1216" y="753" class="nr">AVDD18_PLL_AON</text><text x="1216" y="762" class="nr">AVDD18_POR_RC</text>
<text x="1312" y="744" class="b">FB5</text><text x="1312" y="754" class="b">FB6</text><text x="1312" y="763" class="b">FB7</text><text x="1312" y="775" class="k">0201</text>
<text x="1360" y="744" class="b">600R</text><text x="1360" y="754" class="b">600R</text><text x="1360" y="763" class="b">600R</text>
<g class="dt"><circle cx="1087" cy="746" r="2.2"/><circle cx="1126" cy="756" r="2.2"/><circle cx="1165" cy="756" r="2.2"/><circle cx="1204" cy="765.5" r="2.2"/><circle cx="1410" cy="746" r="2.2"/><circle cx="1410" cy="756" r="2.2"/><circle cx="1126" cy="813" r="2.2"/><circle cx="1165" cy="813" r="2.2"/><circle cx="1204" cy="813" r="2.2"/></g>
<use href="#gs" x="1292" y="813"/><text x="1302" y="816" class="k">GND</text>
<polygon points="1437,746 1447,740 1447,752" fill="#f00"/><text x="1457" y="751" class="n">DVDD18_AON</text>
<g transform="translate(1087,787)"><use href="#c"/><text x="10" y="-5" class="b">C1114</text><text x="11" y="4" class="b">1uF</text><text x="10" y="14" class="r">C0201</text><text x="10" y="23" class="r">6.3V,X5R</text></g>
<g transform="translate(1126,787)"><use href="#c"/><text x="10" y="-5" class="b">C1111</text><text x="11" y="4" class="b">1uF</text><text x="10" y="14" class="r">C0201</text><text x="10" y="23" class="r">6.3V,X5R</text></g>
<g transform="translate(1165,787)"><use href="#c"/><text x="10" y="-5" class="b">C40</text><text x="11" y="4" class="b">100nF</text><text x="10" y="14" class="r">C0201</text><text x="10" y="23" class="r">10V,X5R</text></g>
<g transform="translate(1204,787)"><use href="#c"/><text x="10" y="-5" class="b">C1110</text><text x="11" y="4" class="b">1uF</text><text x="10" y="14" class="r">C0201</text><text x="10" y="23" class="r">6.3V,X5R</text></g>

<!-- PLL_AP group -->
<path d="M990 833.5H1334M990 843H1334M1346 833.5H1437M1346 843H1410M1410 833.5V843M990 853H1038M990 862.5H1038M1038 843V862.5M1087 833.5V903H1300M1126 833.5V903M1165 843V903M1204 843V903M1243 843V903" class="w"/>
<path d="M990 833.5H1012M990 843H1012M990 853H1012M990 862.5H1012" class="rp"/>
<use href="#fb" x="1340" y="833.5"/><use href="#fb" x="1340" y="843"/>
<text x="996" y="831" class="k">AB18</text><text x="996" y="841" class="k">AE18</text><text x="996" y="851" class="k">AC13</text><text x="996" y="860" class="k">AC23</text>
<text x="985" y="837" class="pb" text-anchor="end">AVDD18_PLL_AP</text><text x="985" y="847" class="pb" text-anchor="end">AVDD18_TS_VM</text><text x="985" y="857" class="pb" text-anchor="end">AVDD18_TS0</text><text x="985" y="867" class="pb" text-anchor="end">AVDD18_TS1</text>
<text x="1216" y="830" class="nr">AVDD18_PLL_AP</text><text x="1216" y="840" class="nr">AVDD18_TS</text>
<text x="1310" y="831" class="b">FB10</text><text x="1310" y="841" class="b">FB11</text><text x="1310" y="852" class="k">0201</text>
<text x="1357" y="832" class="b">600R</text><text x="1357" y="842" class="b">600R</text>
<g class="dt"><circle cx="1038" cy="843" r="2.2"/><circle cx="1038" cy="853" r="2.2"/><circle cx="1087" cy="833.5" r="2.2"/><circle cx="1126" cy="833.5" r="2.2"/><circle cx="1165" cy="843" r="2.2"/><circle cx="1204" cy="843" r="2.2"/><circle cx="1243" cy="843" r="2.2"/><circle cx="1410" cy="833.5" r="2.2"/>
<circle cx="1126" cy="903" r="2.2"/><circle cx="1165" cy="903" r="2.2"/><circle cx="1204" cy="903" r="2.2"/><circle cx="1243" cy="903" r="2.2"/></g>
<use href="#gs" x="1300" y="903"/><text x="1310" y="904" class="k">GND</text>
<polygon points="1437,833.5 1447,827.5 1447,839.5" fill="#f00"/><text x="1457" y="838.5" class="n">DVDD18_AP</text>
<g transform="translate(1087,872)"><use href="#c"/><text x="10" y="-7" class="b">C1101</text><text x="11" y="4" class="b">1uF</text><text x="10" y="14" class="r">C0201</text><text x="10" y="26" class="r">6.3V,X5R</text></g>
<g transform="translate(1126,872)"><use href="#c"/><text x="10" y="-7" class="b">C41</text><text x="11" y="4" class="b">100nF</text><text x="10" y="14" class="r">C0201</text><text x="10" y="26" class="r">10V,X5R</text></g>
<g transform="translate(1165,872)"><use href="#c"/><text x="10" y="-7" class="b">C1103</text><text x="11" y="4" class="b">1uF</text><text x="10" y="14" class="r">C0201</text><text x="10" y="26" class="r">6.3V,X5R</text></g>
<g transform="translate(1204,872)"><use href="#c"/><text x="10" y="-7" class="b">C1106</text><text x="11" y="4" class="b">1uF</text><text x="10" y="14" class="r">C0201</text><text x="10" y="26" class="r">6.3V,X5R</text></g>
<g transform="translate(1243,872)"><use href="#c"/><text x="10" y="-7" class="b">C1109</text><text x="11" y="4" class="b">100nF</text><text x="10" y="14" class="r">C0201</text><text x="10" y="26" class="r">10V,X5R</text></g>

<!-- EFUSE -->
<path d="M990 921.5H1397M1087 921.5V968" class="w"/><path d="M990 921.5H1012" class="rp"/>
<text x="996" y="919" class="k">M28</text><text x="985" y="926" class="pb" text-anchor="end">DVDD18_EFUSE</text>
<circle cx="1087" cy="921.5" r="2.2" fill="#f0f"/>
<polygon points="1397,921.5 1407,915.5 1407,927.5" fill="#f00"/><text x="1418" y="926.5" class="n">AVDD18_MIPI_HDMI</text>
<g transform="translate(1087,944)"><use href="#c"/><text x="10" y="-8" class="b">C1100</text><text x="11" y="2" class="b">1uF</text><text x="10" y="13" class="r">C0201</text><text x="10" y="24" class="r">6.3V,X5R</text></g>
<use href="#g" x="1087" y="968"/><text x="1081" y="988" class="k">GND</text>
</svg>
</body></html>
